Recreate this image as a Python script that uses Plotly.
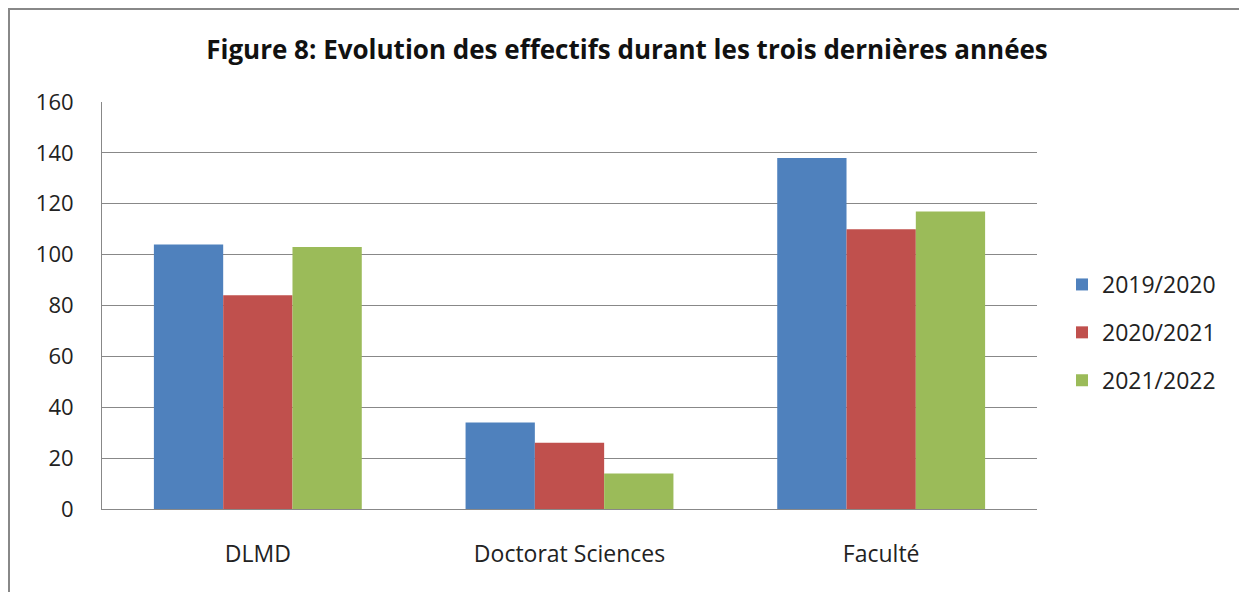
import plotly.graph_objects as go

categories = ["DLMD", "Doctorat Sciences", "Faculté"]
series_names = ["2019/2020", "2020/2021", "2021/2022"]
values_2019 = [104, 34, 138]
values_2020 = [84, 26, 110]
values_2021 = [103, 14, 117]
colors = ["#4F81BD", "#C0504D", "#9BBB59"]
y_ticks = [0, 20, 40, 60, 80, 100, 120, 140, 160]

# page body has an 8px default margin; work in figure coordinates
OFF = 8
W, H = 1247 - OFF, 592 - OFF
PL, PR, PT, PB = 102 - OFF, 1037 - OFF, 102 - OFF, 509 - OFF
L, R, T, B = PL, W - PR, PT, H - PB
pw, ph = PR - PL, PB - PT

def px2x(p):
    return (p - OFF - L) / pw

def py2y(p):
    return (H - B - (p - OFF)) / ph

fig = go.Figure()
for name, vals, c in zip(series_names, [values_2019, values_2020, values_2021], colors):
    fig.add_trace(go.Bar(name=name, x=categories, y=vals, legendgroup=name,
                         marker=dict(color=c, line=dict(width=0))))

fig.update_layout(
    width=W, height=H,
    margin=dict(l=L, r=R, t=T, b=B),
    paper_bgcolor="white", plot_bgcolor="white",
    barmode="group", bargap=0.333, bargroupgap=0,
    font=dict(family="Open Sans", color="#222222"),
    title=dict(text="<b>Figure 8: Evolution des effectifs durant les trois dernières années</b>",
               x=px2x(627), xref="paper", xanchor="center",
               y=1 - (50 - OFF) / H, yref="container", yanchor="middle",
               font=dict(family="Open Sans", size=26, color="#111111")),
    legend=dict(x=px2x(1062), xanchor="left", y=py2y(263), yanchor="top",
                font=dict(family="Open Sans", size=23, color="#222222"),
                tracegroupgap=15, itemwidth=30, bgcolor="rgba(0,0,0,0)"),
    showlegend=True,
)
fig.update_xaxes(showline=True, linecolor="#888888", linewidth=1, mirror=False,
                 ticks="", tickfont=dict(family="Open Sans", size=23, color="#222222"),
                 ticklabelstandoff=24)
fig.update_yaxes(range=[0, 160], tickvals=y_ticks, showgrid=True, gridcolor="#888888", gridwidth=1,
                 showline=True, linecolor="#888888", linewidth=1, zeroline=False,
                 ticks="", tickfont=dict(family="Open Sans", size=22, color="#222222"),
                 ticklabelstandoff=23)
fig.add_shape(type="rect", xref="paper", yref="paper",
              x0=px2x(8.5), x1=px2x(1244.5), y0=py2y(640), y1=py2y(8.5),
              line=dict(color="#888888", width=3), fillcolor="rgba(0,0,0,0)", layer="below")
fig.write_html("out.html")
